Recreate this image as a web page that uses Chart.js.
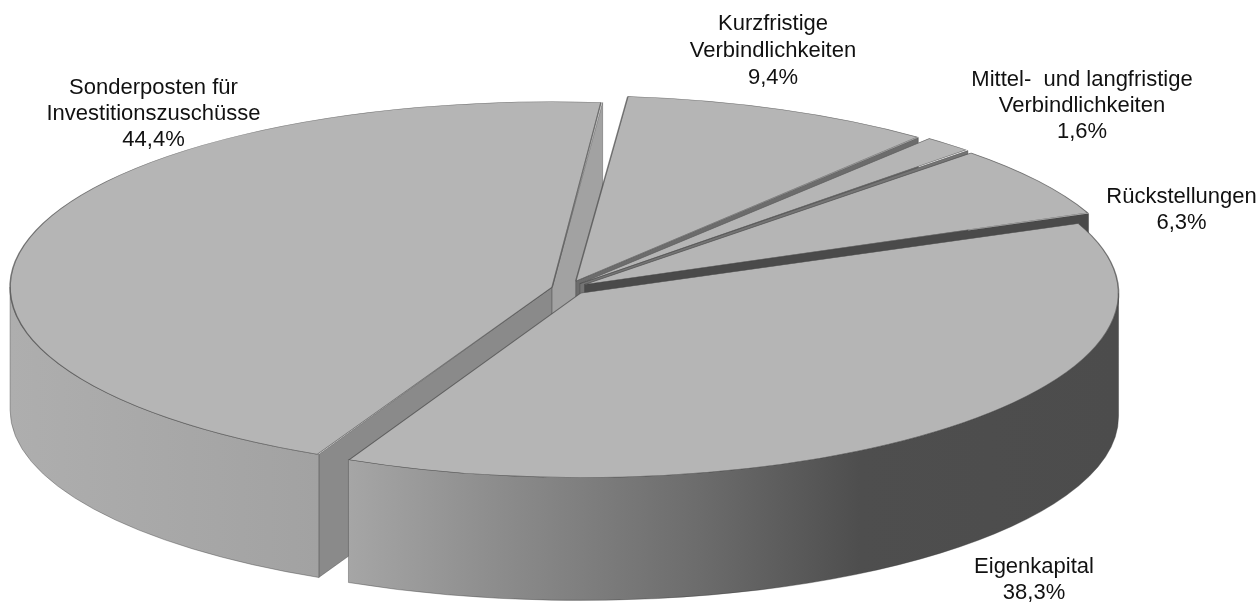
<!DOCTYPE html>
<html>
<head>
<meta charset="utf-8">
<style>
  html, body { margin: 0; padding: 0; background: #fff; }
  canvas { display: block; }
</style>
<script src="https://cdn.jsdelivr.net/npm/chart.js@4"></script>
</head>
<body>
<canvas id="pie-chart" width="1260" height="602"></canvas>
<script>
var categories = ['Sonderposten für Investitionszuschüsse', 'Kurzfristige Verbindlichkeiten', 'Mittel- und langfristige Verbindlichkeiten', 'Rückstellungen', 'Eigenkapital'];
var shares = [44.4, 9.4, 1.6, 6.3, 38.3];
var labelLines = [
  ['Sonderposten für', 'Investitionszuschüsse', '44,4%'],
  ['Kurzfristige', 'Verbindlichkeiten', '9,4%'],
  ['Mittel-  und langfristige', 'Verbindlichkeiten', '1,6%'],
  ['Rückstellungen', '6,3%'],
  ['Eigenkapital', '38,3%']
];

// where the flattened pie sits on the page (pixels)
var view = { cx: 567, cy: 288.5, a: 532, b: 182, depth: 123 };
var labelBoxes = [
  { x: 153.5, y: 88, step: 26 },
  { x: 773, y: 24, step: 27 },
  { x: 1082, y: 80, step: 26 },
  { x: 1181.5, y: 197, step: 26 },
  { x: 1034, y: 567, step: 26 }
];
var faceColors = [['#8a8a8a', '#a2a2a2'], [null, '#6c6c6c'], [null, '#747474'], [null, '#4a4a4a'], [null, null]];
var wallStops = [
  [[10, '#aeaeae'], [320, '#a2a2a2']],
  null, null, null,
  [[347, '#a6a6a6'], [500, '#8c8c8c'], [700, '#6c6c6c'], [860, '#4e4e4e'], [1118, '#4c4c4c']]
];
var edgeColor = 'rgba(60,60,60,0.6)';

function geom(arc) {
  var o = arc.options.offset / 4;
  var fix = 1 - Math.sin(Math.min(Math.PI, arc.circumference));
  var mid = (arc.startAngle + arc.endAngle) / 2;
  return {
    x: arc.x + Math.cos(mid) * o,
    y: arc.y + Math.sin(mid) * o,
    r: arc.outerRadius + o * fix
  };
}

var pie3d = {
  id: 'pie3d',
  beforeDatasetsDraw: function (chart) {
    var ctx = chart.ctx;
    var arcs = chart.getDatasetMeta(0).data;
    var base = arcs[0];
    var sx = view.a / base.outerRadius;
    var sy = view.b / base.outerRadius;
    var dy = view.depth / sy;
    var toX = function (px) { return (px - view.cx) / sx + base.x; };

    ctx.save();
    ctx.translate(view.cx, view.cy);
    ctx.scale(sx, sy);
    ctx.translate(-base.x, -base.y);
    ctx.strokeStyle = edgeColor;
    ctx.lineWidth = 0.5;

    arcs.forEach(function (arc, i) {
      var g = geom(arc);
      var faces = faceColors[i];
      [[arc.startAngle, faces[0], -1], [arc.endAngle, faces[1], 1]].forEach(function (f) {
        if (!f[1] || Math.cos(f[0]) * f[2] <= 0) return;
        var ex = g.x + Math.cos(f[0]) * g.r;
        var ey = g.y + Math.sin(f[0]) * g.r;
        ctx.beginPath();
        ctx.moveTo(g.x, g.y);
        ctx.lineTo(ex, ey);
        ctx.lineTo(ex, ey + dy);
        ctx.lineTo(g.x, g.y + dy);
        ctx.closePath();
        ctx.fillStyle = f[1];
        ctx.fill();
        ctx.stroke();
      });

      // outer wall, only the part turned towards the viewer
      if (wallStops[i]) {
        var s = arc.startAngle, e = arc.endAngle;
        var turn = s >= Math.PI ? 2 * Math.PI : 0;
        var a0 = Math.max(s, turn), a1 = Math.min(e, turn + Math.PI);
        if (a1 > a0) {
          var stops = wallStops[i];
          var first = stops[0][0], last = stops[stops.length - 1][0];
          var grad = ctx.createLinearGradient(toX(first), 0, toX(last), 0);
          stops.forEach(function (st) { grad.addColorStop((st[0] - first) / (last - first), st[1]); });
          ctx.beginPath();
          ctx.arc(g.x, g.y, g.r, a0, a1);
          ctx.arc(g.x, g.y + dy, g.r, a1, a0, true);
          ctx.closePath();
          ctx.fillStyle = grad;
          ctx.fill();
          ctx.stroke();
        }
      }
      arc.draw(ctx);
    });
    ctx.restore();
    return false;
  },
  afterDraw: function (chart) {
    var ctx = chart.ctx;
    ctx.save();
    ctx.fillStyle = '#111';
    ctx.font = '22px "Liberation Sans"';
    ctx.textAlign = 'center';
    ctx.textBaseline = 'middle';
    labelLines.forEach(function (lines, i) {
      var box = labelBoxes[i];
      lines.forEach(function (t, n) { ctx.fillText(t, box.x, box.y + n * box.step); });
    });
    ctx.restore();
  }
};

new Chart(document.getElementById('pie-chart').getContext('2d'), {
  type: 'pie',
  data: {
    labels: categories,
    datasets: [{
      data: shares,
      backgroundColor: '#b5b5b5',
      borderColor: 'rgba(70,70,70,0.7)',
      borderWidth: 0.8,
      offset: [32, 48, 40, 44, 40]
    }]
  },
  options: {
    responsive: false,
    animation: false,
    rotation: 205.5,
    plugins: { legend: { display: false }, tooltip: { enabled: false } }
  },
  plugins: [pie3d]
});
</script>
</body>
</html>
